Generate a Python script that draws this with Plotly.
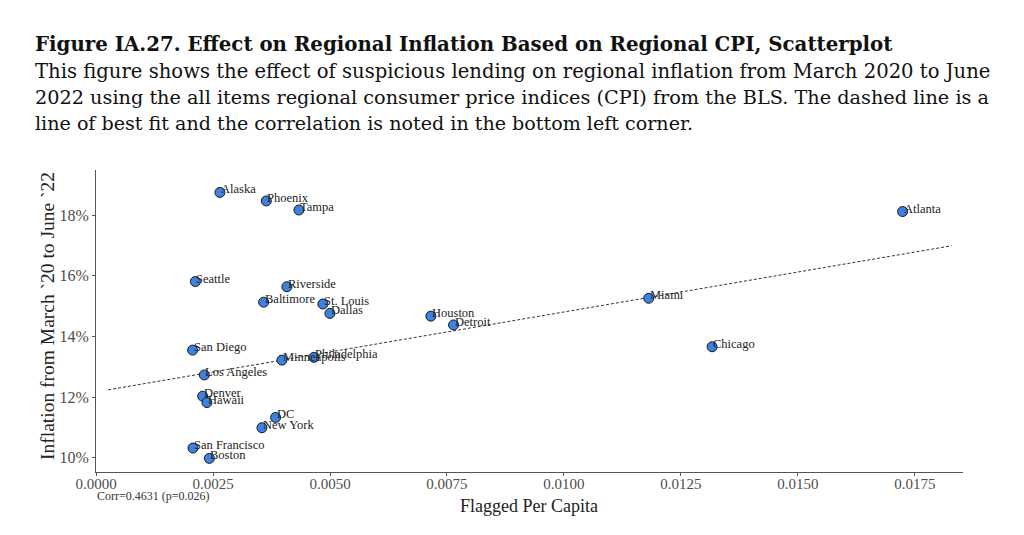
import plotly.graph_objects as go

# ---- data ----
regions = ["Alaska", "Phoenix", "Tampa", "Atlanta", "Seattle", "Riverside", "Baltimore",
           "St. Louis", "Dallas", "Houston", "Detroit", "Miami", "Chicago", "San Diego",
           "Minneapolis", "Philadelphia", "Los Angeles", "Denver", "Hawaii", "DC",
           "New York", "San Francisco", "Boston"]
flagged_per_capita = [0.002648, 0.003639, 0.004336, 0.017236, 0.002123, 0.004079, 0.003582,
                      0.004848, 0.004998, 0.007155, 0.007640, 0.011811, 0.013165, 0.002065,
                      0.003973, 0.004656, 0.002315, 0.002279, 0.002371, 0.003838,
                      0.003546, 0.002072, 0.002422]
inflation_pct = [18.75, 18.47, 18.17, 18.12, 15.81, 15.64, 15.13,
                 15.07, 14.76, 14.67, 14.38, 15.26, 13.66, 13.55,
                 13.22, 13.31, 12.73, 12.03, 11.82, 11.33,
                 10.99, 10.32, 9.98]
fit_x = [0.00026, 0.01828]
fit_y = [12.24, 16.99]
x_ticks = [0.0, 0.0025, 0.005, 0.0075, 0.01, 0.0125, 0.015, 0.0175]
x_tick_labels = ["0.0000", "0.0025", "0.0050", "0.0075", "0.0100", "0.0125", "0.0150", "0.0175"]
y_ticks = [10, 12, 14, 16, 18]
y_tick_labels = ["10%", "12%", "14%", "16%", "18%"]
corr_text = "Corr=0.4631 (p=0.026)"

title = "Figure IA.27. Effect on Regional Inflation Based on Regional CPI, Scatterplot"
caption_lines = [
    "This figure shows the effect of suspicious lending on regional inflation from March 2020 to June",
    "2022 using the all items regional consumer price indices (CPI) from the BLS. The dashed line is a",
    "line of best fit and the correlation is noted in the bottom left corner.",
]
caption_sizes = [19.6, 19.25, 19.1]

# ---- layout geometry (pixels) ----
W, H = 1024, 535
L, R, T, B = 96, 61, 170, 63
PW, PH = W - L - R, H - T - B

def px(xp):
    return (xp - L) / PW

def py(yp):
    return (H - B - yp) / PH

SERIF = "Liberation Serif, DejaVu Serif, serif"
HEAD = "DejaVu Serif, serif"
AX = "#4d4d4d"

fig = go.Figure()
fig.add_trace(go.Scatter(x=fit_x, y=fit_y, mode="lines",
                         line=dict(color="#333333", width=1, dash="3px,2px"),
                         hoverinfo="skip", showlegend=False))
fig.add_trace(go.Scatter(x=flagged_per_capita, y=inflation_pct, mode="markers",
                         marker=dict(size=10, color="#3d82e3",
                                     line=dict(color="#1a1a1a", width=1)),
                         text=regions, showlegend=False))

annotations = []
for name, xv, yv in zip(regions, flagged_per_capita, inflation_pct):
    annotations.append(dict(x=xv, y=yv, xref="x", yref="y", text=name, showarrow=False,
                            xanchor="left", yanchor="middle", xshift=-1, yshift=3,
                            font=dict(family=SERIF, size=12.5, color="#222222")))

annotations.append(dict(x=px(33), y=py(44), xref="paper", yref="paper", text="<b>" + title + "</b>",
                        showarrow=False, xanchor="left", yanchor="middle",
                        font=dict(family=HEAD, size=19.8, color="#111111")))
for i, (line, sz) in enumerate(zip(caption_lines, caption_sizes)):
    annotations.append(dict(x=px(33), y=py(71 + 26 * i), xref="paper", yref="paper", text=line,
                            showarrow=False, xanchor="left", yanchor="middle",
                            font=dict(family=HEAD, size=sz, color="#111111")))

annotations.append(dict(x=px(95), y=py(496), xref="paper", yref="paper", text=corr_text,
                        showarrow=False, xanchor="left", yanchor="middle",
                        font=dict(family=SERIF, size=12, color="#333333")))
annotations.append(dict(x=px(529), y=py(506), xref="paper", yref="paper", text="Flagged Per Capita",
                        showarrow=False, xanchor="center", yanchor="middle",
                        font=dict(family=SERIF, size=18, color="#222222")))
annotations.append(dict(x=px(47), y=py(316), xref="paper", yref="paper",
                        text="Inflation from March `20 to June `22", textangle=-90,
                        showarrow=False, xanchor="center", yanchor="middle",
                        font=dict(family=SERIF, size=19.5, color="#222222")))

fig.update_layout(
    width=W, height=H,
    margin=dict(l=L, r=R, t=T, b=B, pad=0),
    paper_bgcolor="white", plot_bgcolor="white",
    annotations=annotations,
    xaxis=dict(range=[0.0, 0.018526], tickvals=x_ticks, ticktext=x_tick_labels,
               showgrid=False, zeroline=False, showline=True, linecolor="#555555", linewidth=1,
               ticks="outside", ticklen=3, tickcolor="#555555", ticklabelstandoff=-5,
               tickfont=dict(family=SERIF, size=15, color=AX)),
    yaxis=dict(range=[9.53, 19.49], tickvals=y_ticks, ticktext=y_tick_labels,
               showgrid=False, zeroline=False, showline=True, linecolor="#555555", linewidth=1,
               ticks="outside", ticklen=3, tickcolor="#555555",
               tickfont=dict(family=SERIF, size=16, color=AX)),
)

fig.write_html("out.html")
